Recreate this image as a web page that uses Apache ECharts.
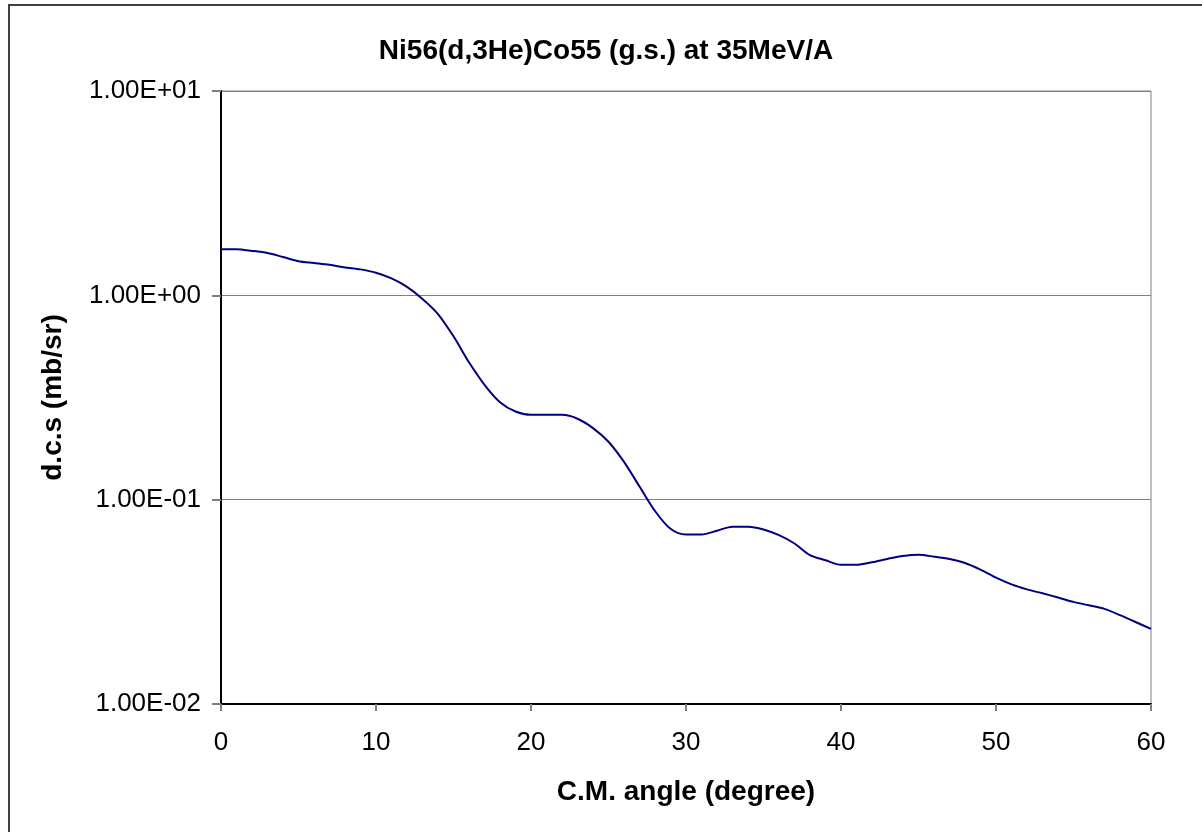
<!DOCTYPE html>
<html>
<head>
<meta charset="utf-8">
<script src="https://cdn.jsdelivr.net/npm/echarts@6/dist/echarts.min.js"></script>
<style>
html,body{margin:0;padding:0;background:#fff;}
#chart{width:1202px;height:832px;}
</style>
</head>
<body>
<div id="chart"></div>
<script>
// Data
var angles = [0,1,2,3,4,5,6,7,8,9,10,11,12,13,14,15,16,17,18,19,20,21,22,23,24,25,26,27,28,29,30,31,32,33,34,35,36,37,38,39,40,41,42,43,44,45,46,47,48,49,50,51,52,53,54,55,56,57,58,59,60];
var dcs = [1.68,1.68,1.65,1.61,1.54,1.47,1.44,1.41,1.37,1.34,1.29,1.21,1.10,0.96,0.81,0.63,0.47,0.365,0.30,0.27,0.26,0.26,0.26,0.249,0.224,0.192,0.153,0.116,0.088,0.072,0.0675,0.0675,0.0705,0.0738,0.0738,0.0715,0.067,0.061,0.0535,0.0505,0.048,0.048,0.0494,0.0513,0.053,0.0537,0.0526,0.0512,0.049,0.0455,0.0415,0.0385,0.0364,0.0348,0.0332,0.0316,0.0304,0.0292,0.0272,0.0252,0.0233];
var yTicks = [0.01, 0.1, 1, 10];
var xTicks = [0,10,20,30,40,50,60];
var titleText = 'Ni56(d,3He)Co55 (g.s.) at 35MeV/A';
var xName = 'C.M. angle (degree)';
var yName = 'd.c.s (mb/sr)';

function sci(v){
  var e = Math.round(Math.log10(v));
  var m = v / Math.pow(10, e);
  var s = e < 0 ? '-' : '+';
  var ea = Math.abs(e);
  return m.toFixed(2) + 'E' + s + (ea < 10 ? '0' : '') + ea;
}

var FONT = '"Liberation Sans", Arial, sans-serif';
var chart = echarts.init(document.getElementById('chart'));
var seriesData = angles.map(function(a, i){ return [a, dcs[i]]; });

chart.setOption({
  animation: false,
  backgroundColor: '#ffffff',
  title: {
    text: titleText,
    left: 601, top: 32, textAlign: 'center',
    textStyle: {fontFamily: FONT, fontSize: 28, fontWeight: 'bold', color: '#000'}
  },
  graphic: [{
    type: 'rect',
    shape: {x: 9, y: 5, width: 1200, height: 840},
    style: {fill: 'none', stroke: '#404040', lineWidth: 2},
    silent: true, z: 100
  }],
  grid: {
    left: 221, right: 51, top: 91, bottom: 128,
    show: true, borderColor: '#808080', borderWidth: 1, backgroundColor: 'transparent'
  },
  xAxis: {
    type: 'value', min: 0, max: 60, interval: 10,
    name: xName, nameLocation: 'middle', nameGap: 74,
    nameTextStyle: {fontFamily: FONT, fontSize: 28, fontWeight: 'bold', color: '#000'},
    axisLine: {show: true, onZero: false, lineStyle: {color: '#000', width: 2}},
    axisTick: {show: true, length: 7, lineStyle: {color: '#808080', width: 2}},
    axisLabel: {fontFamily: FONT, fontSize: 26, color: '#000', margin: 26},
    splitLine: {show: false}
  },
  yAxis: {
    type: 'log', logBase: 10, min: yTicks[0], max: yTicks[yTicks.length-1],
    name: yName, nameLocation: 'middle', nameGap: 154, nameRotate: 90,
    nameTextStyle: {fontFamily: FONT, fontSize: 28, fontWeight: 'bold', color: '#000'},
    axisLine: {show: true, lineStyle: {color: '#000', width: 2}},
    axisTick: {show: true, length: 9, lineStyle: {color: '#808080', width: 2}},
    axisLabel: {fontFamily: FONT, fontSize: 26, color: '#000', margin: 20, formatter: function(v){ return sci(v); }},
    splitLine: {show: true, lineStyle: {color: '#808080', width: 1}}
  },
  series: [{
    type: 'line',
    data: seriesData,
    showSymbol: false,
    smooth: 0.3,
    lineStyle: {color: '#000080', width: 2},
    itemStyle: {color: '#000080'}
  }]
});
</script>
</body>
</html>
